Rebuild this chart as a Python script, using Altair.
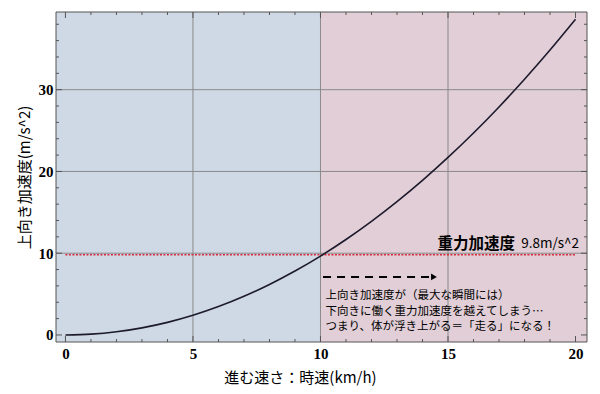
import altair as alt
import pandas as pd

# ---- data ----
speed_kmh = list(range(0, 21))
accel = [0.0, 0.1, 0.39, 0.87, 1.54, 2.41, 3.47, 4.73, 6.18, 7.82, 9.65,
         11.68, 13.9, 16.31, 18.91, 21.71, 24.7, 27.89, 31.27, 34.84, 38.6]

gravity = 9.8
x_ticks = [0, 5, 10, 15, 20]
y_ticks = [0, 10, 20, 30]
x_minor = [v for v in range(0, 21) if v % 5 != 0]
y_minor = [v for v in range(2, 40, 2) if v % 10 != 0]
grid_x = [5, 10, 15]
grid_y = [10, 20, 30]

XMIN, XMAX = -0.37, 20.45
YMIN, YMAX = -0.86, 39.5
W, H = 531, 330

zones = ["walk", "run"]
zone_from = [XMIN, 10]
zone_to = [10, XMAX]
zone_colors = ["#cfd9e6", "#e1ced6"]

note_lines = ["上向き加速度が（最大な瞬間には）",
              "下向きに働く重力加速度を越えてしまう…",
              "つまり、体が浮き上がる＝「走る」になる！"]

xs = alt.Scale(domain=[XMIN, XMAX], nice=False, zero=False)
ys = alt.Scale(domain=[YMIN, YMAX], nice=False, zero=False)

SERIF = "Liberation Serif"
JP = "Noto Sans CJK JP"

curve_df = pd.DataFrame({"v": speed_kmh, "a": accel})
zone_df = pd.DataFrame({"zone": zones, "x0": zone_from, "x1": zone_to,
                        "y0": [YMIN, YMIN], "y1": [YMAX, YMAX]})

xaxis = alt.Axis(values=x_ticks, grid=False, ticks=False, domain=False,
                 labelFont=SERIF, labelFontWeight="bold", labelFontSize=15,
                 labelColor="black", labelPadding=4,
                 title="進む速さ：時速(km/h)", titleFont=JP, titleFontSize=15,
                 titleFontWeight="normal", titleColor="black",
                 titleX=244, titleY=43, titleAlign="center", titleBaseline="bottom")
yaxis = alt.Axis(values=y_ticks, grid=False, ticks=False, domain=False,
                 labelFont=SERIF, labelFontWeight="bold", labelFontSize=15,
                 labelColor="black", labelPadding=3,
                 title="上向き加速度(m/s^2)", titleFont=JP, titleFontSize=15,
                 titleFontWeight="normal", titleColor="black",
                 titleX=-32, titleY=165, titleAngle=270,
                 titleAlign="center", titleBaseline="middle")

bg = alt.Chart(zone_df).mark_rect().encode(
    x=alt.X("x0:Q", scale=xs, axis=xaxis),
    x2="x1:Q",
    y=alt.Y("y0:Q", scale=ys, axis=yaxis),
    y2="y1:Q",
    color=alt.Color("zone:N", scale=alt.Scale(domain=zones, range=zone_colors), legend=None),
)

gx = alt.Chart(pd.DataFrame({"g": grid_x})).mark_rule(color="#8a8a8a", strokeWidth=1).encode(
    x=alt.X("g:Q", scale=xs))
gy = alt.Chart(pd.DataFrame({"g": grid_y})).mark_rule(color="#8a8a8a", strokeWidth=1).encode(
    y=alt.Y("g:Q", scale=ys))

red = alt.Chart(pd.DataFrame({"x0": [0], "x1": [20], "y": [gravity]})).mark_rule(
    color="#d8283a", strokeWidth=1.5, strokeDash=[2, 1.5]).encode(
    x=alt.X("x0:Q", scale=xs), x2="x1:Q", y=alt.Y("y:Q", scale=ys))

curve = alt.Chart(curve_df).mark_line(color="#1c1a2c", strokeWidth=1.6,
                                      interpolate="monotone").encode(
    x=alt.X("v:Q", scale=xs), y=alt.Y("a:Q", scale=ys))

arrow_line = alt.Chart(pd.DataFrame({"x0": [10.1], "x1": [14.35], "y": [7.1]})).mark_rule(
    color="black", strokeWidth=2, strokeDash=[8, 6]).encode(
    x=alt.X("x0:Q", scale=xs), x2="x1:Q", y=alt.Y("y:Q", scale=ys))
arrow_head = alt.Chart(pd.DataFrame({"x": [14.45], "y": [7.1]})).mark_point(
    shape="triangle-right", filled=True, color="black", size=45, opacity=1).encode(
    x=alt.X("x:Q", scale=xs), y=alt.Y("y:Q", scale=ys))

g_label1 = alt.Chart(pd.DataFrame({"x": [17.63], "y": [11.1], "t": ["重力加速度"]})).mark_text(
    font=JP, fontSize=15.5, fontWeight="bold", align="right", baseline="middle",
    color="black").encode(x=alt.X("x:Q", scale=xs), y=alt.Y("y:Q", scale=ys), text="t:N")
g_label2 = alt.Chart(pd.DataFrame({"x": [20.14], "y": [11.1], "t": ["9.8m/s^2"]})).mark_text(
    font=JP, fontSize=13.5, fontWeight="normal", align="right", baseline="middle",
    color="black").encode(x=alt.X("x:Q", scale=xs), y=alt.Y("y:Q", scale=ys), text="t:N")

note = alt.Chart(pd.DataFrame({"x": [10.2] * 3, "y": [4.75, 2.85, 0.95], "t": note_lines})).mark_text(
    font=JP, fontSize=11.5, align="left", baseline="middle", color="black").encode(
    x=alt.X("x:Q", scale=xs), y=alt.Y("y:Q", scale=ys), text="t:N")

TICK = "#555555"
def xticks(vals, length):
    d = pd.DataFrame({"t": vals})
    b = alt.Chart(d).mark_rule(color=TICK, strokeWidth=1).encode(
        x=alt.X("t:Q", scale=xs), y=alt.value(H), y2=alt.value(H - length))
    t = alt.Chart(d).mark_rule(color=TICK, strokeWidth=1).encode(
        x=alt.X("t:Q", scale=xs), y=alt.value(0), y2=alt.value(length))
    return b + t
def yticks(vals, length):
    d = pd.DataFrame({"t": vals})
    l = alt.Chart(d).mark_rule(color=TICK, strokeWidth=1).encode(
        y=alt.Y("t:Q", scale=ys), x=alt.value(0), x2=alt.value(length))
    r = alt.Chart(d).mark_rule(color=TICK, strokeWidth=1).encode(
        y=alt.Y("t:Q", scale=ys), x=alt.value(W), x2=alt.value(W - length))
    return l + r

frame = alt.Chart(pd.DataFrame({"x0": [XMIN], "x1": [XMAX], "y0": [YMIN], "y1": [YMAX]})).mark_rect(
    fillOpacity=0, stroke="#555555", strokeWidth=1).encode(
    x=alt.X("x0:Q", scale=xs), x2="x1:Q", y=alt.Y("y0:Q", scale=ys), y2="y1:Q")

chart = alt.layer(
    bg, gx, gy, red, curve, arrow_line, arrow_head, g_label1, g_label2, note,
    xticks(x_ticks, 6), xticks(x_minor, 3), yticks(y_ticks, 6), yticks(y_minor, 3), frame
).properties(
    width=W, height=H,
    autosize=alt.AutoSizeParams(type="none"),
    padding={"left": 48, "top": 4, "right": 5, "bottom": 44},
    background="white",
).configure_view(stroke=None)

chart.save("out.html", embed_options={"renderer": "svg", "actions": False})
